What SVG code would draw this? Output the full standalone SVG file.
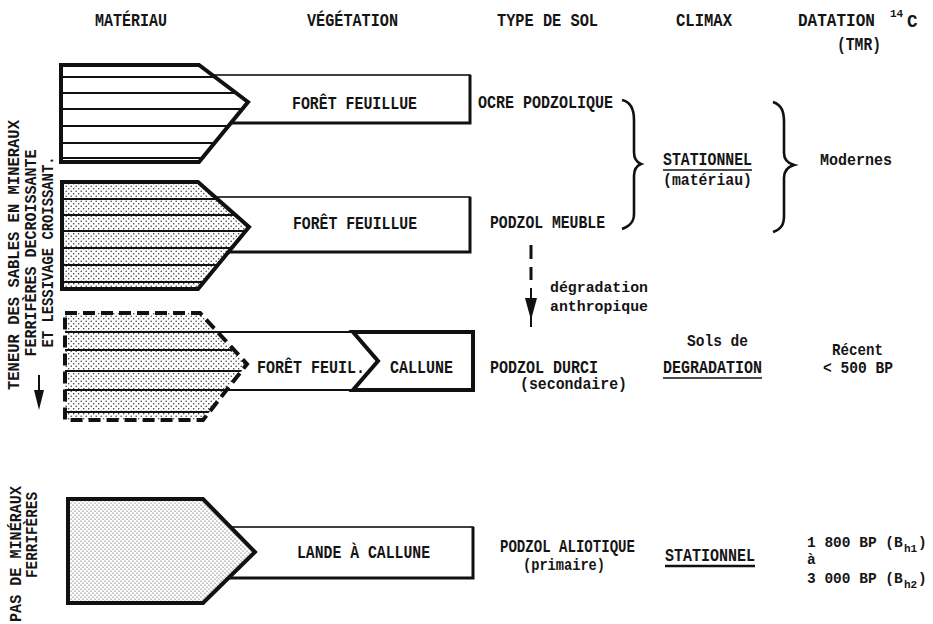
<svg xmlns="http://www.w3.org/2000/svg" width="933" height="624" viewBox="0 0 933 624">
  <style>
    text { font-family: "Liberation Mono", "DejaVu Sans Mono", monospace; font-weight: bold; fill: #151515; }
    .t { font-size: 16px; }
    .m { font-size: 15px; }
    .d { font-size: 14.5px; }
    .s { font-size: 17.5px; }
    .v { font-size: 16.5px; }
    .sub { font-size: 11px; }
    .outline { fill: none; stroke: #111; stroke-width: 4; stroke-linejoin: miter; }
    .dash { fill: none; stroke: #111; stroke-width: 4; stroke-dasharray: 12 6; }
    .stripe { stroke: #111; stroke-width: 2.2; }
    .veg { fill: #fff; stroke: #111; stroke-width: 1.6; }
    .heavy { stroke: #111; stroke-width: 3; fill: none; }
    .conn { fill: none; stroke: #111; stroke-width: 2.6; }
    .ul { stroke: #111; stroke-width: 1.6; }
  </style>
  <defs>
    <pattern id="dots" width="5" height="5" patternUnits="userSpaceOnUse">
      <rect width="5" height="5" fill="#fff"/>
      <circle cx="1.2" cy="1.2" r="0.75" fill="#333"/>
      <circle cx="3.7" cy="3.7" r="0.75" fill="#333"/>
    </pattern>
    <pattern id="fineDots" width="4" height="4" patternUnits="userSpaceOnUse">
      <rect width="4" height="4" fill="#fff"/>
      <circle cx="1" cy="1" r="0.6" fill="#444"/>
      <circle cx="3" cy="3" r="0.6" fill="#444"/>
    </pattern>
    <clipPath id="clip1"><path d="M61,65 L199,65 L248,102 L199,162 L61,162 Z"/></clipPath>
    <clipPath id="clip2"><path d="M62,182 L198,182 L249,227 L198,289 L62,289 Z"/></clipPath>
    <clipPath id="clip3"><path d="M65,313 L200,313 L247,364 L203,420 L65,420 Z"/></clipPath>
  </defs>

  <rect width="933" height="624" fill="#fff"/>

  <!-- column headings -->
  <g id="headings">
    <text class="s" x="95" y="26" textLength="72" lengthAdjust="spacingAndGlyphs">MATÉRIAU</text>
    <text class="s" x="307" y="26" textLength="91" lengthAdjust="spacingAndGlyphs">VÉGÉTATION</text>
    <text class="s" x="497" y="26" textLength="101" lengthAdjust="spacingAndGlyphs">TYPE DE SOL</text>
    <text class="s" x="676" y="26" textLength="56" lengthAdjust="spacingAndGlyphs">CLIMAX</text>
    <text class="s" x="798" y="26" textLength="77" lengthAdjust="spacingAndGlyphs">DATATION</text>
    <text x="890" y="17" font-size="11">14</text>
    <text class="s" x="907" y="27">C</text>
    <text class="s" x="837" y="50" textLength="44" lengthAdjust="spacingAndGlyphs">(TMR)</text>
  </g>

  <!-- side captions -->
  <g id="side-caption-top">
    <text class="v" transform="translate(19,255) rotate(-90)" text-anchor="middle" textLength="270" lengthAdjust="spacingAndGlyphs">TENEUR DES SABLES EN MINERAUX</text>
    <text class="v" transform="translate(36,253) rotate(-90)" text-anchor="middle" textLength="207" lengthAdjust="spacingAndGlyphs">FERRIFÈRES DECROISSANTE</text>
    <text class="v" transform="translate(53,252) rotate(-90)" text-anchor="middle" textLength="191" lengthAdjust="spacingAndGlyphs">ET LESSIVAGE CROISSANT.</text>
    <line x1="39" y1="375" x2="39" y2="400" stroke="#111" stroke-width="2"/>
    <path d="M34,390 L44,390 L39,410 Z" fill="#111"/>
  </g>
  <g id="side-caption-bottom">
    <text class="v" transform="translate(21,554) rotate(-90)" text-anchor="middle" textLength="136" lengthAdjust="spacingAndGlyphs">PAS DE MINÉRAUX</text>
    <text class="v" transform="translate(37,535) rotate(-90)" text-anchor="middle" textLength="86" lengthAdjust="spacingAndGlyphs">FERRIFÈRES</text>
  </g>

  <!-- row 1: striped material, broadleaf forest -->
  <g id="row1">
    <rect class="veg" x="200" y="75" width="270" height="48"/>
    <path class="heavy" d="M200,123 L470,123 L470,75"/>
    <path d="M61,65 L199,65 L248,102 L199,162 L61,162 Z" fill="#fff"/>
    <g clip-path="url(#clip1)">
      <line class="stripe" x1="61" y1="77" x2="260" y2="77"/>
      <line class="stripe" x1="61" y1="93" x2="260" y2="93"/>
      <line class="stripe" x1="61" y1="109" x2="260" y2="109"/>
      <line class="stripe" x1="61" y1="126" x2="260" y2="126"/>
      <line class="stripe" x1="61" y1="143" x2="260" y2="143"/>
      <line class="stripe" x1="61" y1="158" x2="260" y2="158"/>
    </g>
    <path class="outline" d="M61,65 L199,65 L248,102 L199,162 L61,162 Z"/>
    <text class="s" x="292" y="109" textLength="125" lengthAdjust="spacingAndGlyphs">FORÊT FEUILLUE</text>
    <text class="s" x="478" y="108" textLength="135" lengthAdjust="spacingAndGlyphs">OCRE PODZOLIQUE</text>
  </g>

  <!-- row 2: dotted striped material, broadleaf forest -->
  <g id="row2">
    <rect class="veg" x="200" y="197" width="270" height="55"/>
    <path class="heavy" d="M200,252 L470,252 L470,197"/>
    <path d="M62,182 L198,182 L249,227 L198,289 L62,289 Z" fill="url(#dots)"/>
    <g clip-path="url(#clip2)">
      <line class="stripe" x1="62" y1="199" x2="260" y2="199"/>
      <line class="stripe" x1="62" y1="215" x2="260" y2="215"/>
      <line class="stripe" x1="62" y1="231" x2="260" y2="231"/>
      <line class="stripe" x1="62" y1="248" x2="260" y2="248"/>
      <line class="stripe" x1="62" y1="265" x2="260" y2="265"/>
      <line class="stripe" x1="62" y1="282" x2="260" y2="282"/>
    </g>
    <path class="outline" d="M62,182 L198,182 L249,227 L198,289 L62,289 Z"/>
    <text class="s" x="293" y="229" textLength="124" lengthAdjust="spacingAndGlyphs">FORÊT FEUILLUE</text>
    <text class="s" x="490" y="228" textLength="115" lengthAdjust="spacingAndGlyphs">PODZOL MEUBLE</text>
  </g>

  <!-- row 3: degraded material, forest then heather -->
  <g id="row3">
    <rect class="veg" x="200" y="332" width="273" height="58"/>
    <path d="M65,313 L200,313 L247,364 L203,420 L65,420 Z" fill="url(#dots)"/>
    <g clip-path="url(#clip3)">
      <line class="stripe" x1="65" y1="350" x2="260" y2="350"/>
      <line class="stripe" x1="65" y1="371" x2="260" y2="371"/>
      <line class="stripe" x1="65" y1="412" x2="260" y2="412"/>
    </g>
    <line class="stripe" x1="65" y1="332" x2="355" y2="332"/>
    <line class="stripe" x1="65" y1="390" x2="355" y2="390"/>
    <path class="dash" d="M65,313 L200,313 L247,364 L203,420 L65,420 Z"/>
    <path class="outline" d="M353,332 L473,332 L473,390 L353,390 L378,361 Z" fill="#fff"/>
    <text class="s" x="257" y="373" textLength="108" lengthAdjust="spacingAndGlyphs">FORÊT FEUIL.</text>
    <text class="s" x="390" y="373" textLength="63" lengthAdjust="spacingAndGlyphs">CALLUNE</text>
    <text class="s" x="490" y="373" textLength="108" lengthAdjust="spacingAndGlyphs">PODZOL DURCI</text>
    <text class="t" x="520" y="389" textLength="107" lengthAdjust="spacingAndGlyphs">(secondaire)</text>
  </g>

  <!-- row 4: iron-free sand, heath -->
  <g id="row4">
    <rect class="veg" x="200" y="527" width="273" height="51"/>
    <path class="heavy" d="M200,578 L473,578 L473,527"/>
    <path d="M68,499 L203,499 L255,552 L203,603 L68,603 Z" fill="url(#fineDots)"/>
    <path class="outline" d="M68,499 L203,499 L255,552 L203,603 L68,603 Z"/>
    <text class="s" x="297" y="558" textLength="133" lengthAdjust="spacingAndGlyphs">LANDE À CALLUNE</text>
    <text class="s" x="500" y="552" textLength="135" lengthAdjust="spacingAndGlyphs">PODZOL ALIOTIQUE</text>
    <text class="t" x="523" y="570" textLength="82" lengthAdjust="spacingAndGlyphs">(primaire)</text>
  </g>

  <!-- climax column -->
  <g id="climax-stationnel">
    <text class="s" x="663" y="165" textLength="89" lengthAdjust="spacingAndGlyphs">STATIONNEL</text>
    <line class="ul" x1="663" y1="170" x2="752" y2="170"/>
    <text class="t" x="663" y="185" textLength="89" lengthAdjust="spacingAndGlyphs">(matériau)</text>
  </g>
  <g id="climax-degradation">
    <text class="t" x="687" y="346" textLength="61" lengthAdjust="spacingAndGlyphs">Sols de</text>
    <text class="s" x="663" y="373" textLength="99" lengthAdjust="spacingAndGlyphs">DEGRADATION</text>
    <line class="ul" x1="663" y1="378" x2="762" y2="378"/>
  </g>
  <g id="climax-stationnel-2">
    <text class="s" x="665" y="561" textLength="90" lengthAdjust="spacingAndGlyphs">STATIONNEL</text>
    <line x1="665" y1="566" x2="755" y2="566" stroke="#111" stroke-width="2.6"/>
  </g>

  <!-- dating column -->
  <g id="dating">
    <text class="t" x="820" y="165" textLength="72" lengthAdjust="spacingAndGlyphs">Modernes</text>
    <text class="t" x="832" y="355" textLength="51" lengthAdjust="spacingAndGlyphs">Récent</text>
    <text class="t" x="823" y="373" textLength="70" lengthAdjust="spacingAndGlyphs">&lt; 500 BP</text>
    <text class="d" x="807" y="547">1 800 BP (B</text>
    <text class="sub" x="904" y="552">h1</text>
    <text class="d" x="918" y="547">)</text>
    <text class="d" x="807" y="564">à</text>
    <text class="d" x="807" y="583">3 000 BP (B</text>
    <text class="sub" x="904" y="588">h2</text>
    <text class="d" x="918" y="583">)</text>
  </g>

  <!-- connectors: braces and degradation arrow -->
  <g id="connectors">
    <path class="conn" d="M622,100 C631,102 634,110 634,120 L634,152 C634,158 636,162 641,164 C636,166 634,170 634,176 L634,214 C634,222 630,226 622,229"/>
    <path class="conn" d="M773,102 C782,105 784,112 784,122 L784,153 C784,159 787,163 794,165 C787,167 784,171 784,178 L784,216 C784,225 781,229 773,232"/>
    <line x1="531" y1="245" x2="531" y2="259" stroke="#111" stroke-width="3"/>
    <line x1="531" y1="267" x2="531" y2="280" stroke="#111" stroke-width="3"/>
    <line x1="531" y1="288" x2="531" y2="327" stroke="#111" stroke-width="2"/>
    <path d="M525,298 L537,298 L531,320 Z" fill="#111"/>
    <text class="m" x="550" y="292" textLength="98" lengthAdjust="spacingAndGlyphs">dégradation</text>
    <text class="m" x="550" y="311" textLength="98" lengthAdjust="spacingAndGlyphs">anthropique</text>
  </g>
</svg>
